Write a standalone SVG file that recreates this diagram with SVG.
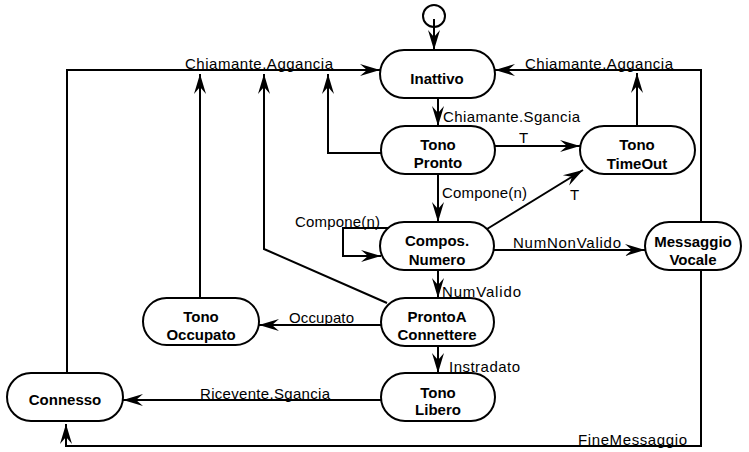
<svg xmlns="http://www.w3.org/2000/svg" width="749" height="452" viewBox="0 0 749 452">
<style>
.node{fill:#fff;stroke:#000;stroke-width:2}
.nt{font-family:"Liberation Sans",Arial,sans-serif;font-size:15px;font-weight:bold;text-anchor:middle;fill:#000}
.el{font-family:"Liberation Sans",Arial,sans-serif;font-size:15px;fill:#000}
.e{fill:none;stroke:#000;stroke-width:2;marker-end:url(#arr)}
</style>
<defs>
<marker id="arr" viewBox="-21 -8 22 16" refX="0" refY="0" markerWidth="22" markerHeight="16" markerUnits="userSpaceOnUse" orient="auto">
<path d="M0,0 L-20,-6 L-13,0 L-20,6 Z" fill="#000"/>
</marker>
</defs>
<rect width="749" height="452" fill="#fff"/>
<g id="connectors">
<path class="e" d="M434,19 V50"/>
<path class="e" d="M438,98 V126"/>
<path class="e" d="M495,146 H580"/>
<path class="e" d="M637,126 V73"/>
<path class="e" d="M381,153 H328 V74"/>
<path class="e" d="M701,222 V70 H495"/>
<path class="e" d="M67,373 V70 H380"/>
<path class="e" d="M200,298 V74"/>
<path class="e" d="M387,303 L264,249 V74"/>
<path class="e" d="M438,174 V222"/>
<path class="e" d="M487,229 L583,170"/>
<path class="e" d="M388,228 H343 V256 H381"/>
<path class="e" d="M494,250 H645"/>
<path class="e" d="M438,271 V298"/>
<path class="e" d="M381,325 H259"/>
<path class="e" d="M438,346 V373"/>
<path class="e" d="M381,400 H123"/>
<path class="e" d="M701,271 V446 H66 V424"/>
<text class="el" x="185" y="69" textLength="148">Chiamante.Aggancia</text>
<text class="el" x="525" y="69" textLength="148">Chiamante.Aggancia</text>
<text class="el" x="443" y="122" textLength="137">Chiamante.Sgancia</text>
<text class="el" x="519" y="143">T</text>
<text class="el" x="570" y="200">T</text>
<text class="el" x="442" y="198" textLength="85">Compone(n)</text>
<text class="el" x="295" y="227" textLength="85">Compone(n)</text>
<text class="el" x="513" y="248" textLength="108">NumNonValido</text>
<text class="el" x="442" y="297" textLength="79">NumValido</text>
<text class="el" x="289" y="323" textLength="65">Occupato</text>
<text class="el" x="449" y="372" textLength="71">Instradato</text>
<text class="el" x="200" y="399" textLength="130">Ricevente.Sgancia</text>
<text class="el" x="578" y="445" textLength="109">FineMessaggio</text>
</g>
<g id="start"><circle cx="434" cy="16" r="11" fill="none" stroke="#000" stroke-width="2"/></g>
<g id="Inattivo"><rect class="node" x="380" y="50" width="115" height="48" rx="24"/><text class="nt" x="437" y="84">Inattivo</text></g>
<g id="TonoPronto"><rect class="node" x="381" y="126" width="114" height="48" rx="24"/><text class="nt" x="438" y="150">Tono</text><text class="nt" x="438" y="168">Pronto</text></g>
<g id="TonoTimeOut"><rect class="node" x="580" y="126" width="115" height="48" rx="24"/><text class="nt" x="637" y="150">Tono</text><text class="nt" x="637" y="169">TimeOut</text></g>
<g id="ComposNumero"><rect class="node" x="380" y="222" width="114" height="48" rx="24"/><text class="nt" x="437" y="246">Compos.</text><text class="nt" x="437" y="265">Numero</text></g>
<g id="MessaggioVocale"><rect class="node" x="645" y="222" width="96" height="48" rx="24"/><text class="nt" x="693" y="247">Messaggio</text><text class="nt" x="693" y="265">Vocale</text></g>
<g id="ProntoAConnettere"><rect class="node" x="381" y="298" width="113" height="48" rx="24"/><text class="nt" x="437" y="322">ProntoA</text><text class="nt" x="437" y="340">Connettere</text></g>
<g id="TonoOccupato"><rect class="node" x="143" y="298" width="116" height="47" rx="23.5"/><text class="nt" x="201" y="322">Tono</text><text class="nt" x="201" y="340">Occupato</text></g>
<g id="TonoLibero"><rect class="node" x="381" y="373" width="114" height="48" rx="24"/><text class="nt" x="438" y="398">Tono</text><text class="nt" x="438" y="415">Libero</text></g>
<g id="Connesso"><rect class="node" x="7" y="373" width="116" height="48" rx="24"/><text class="nt" x="65" y="405">Connesso</text></g>
</svg>
